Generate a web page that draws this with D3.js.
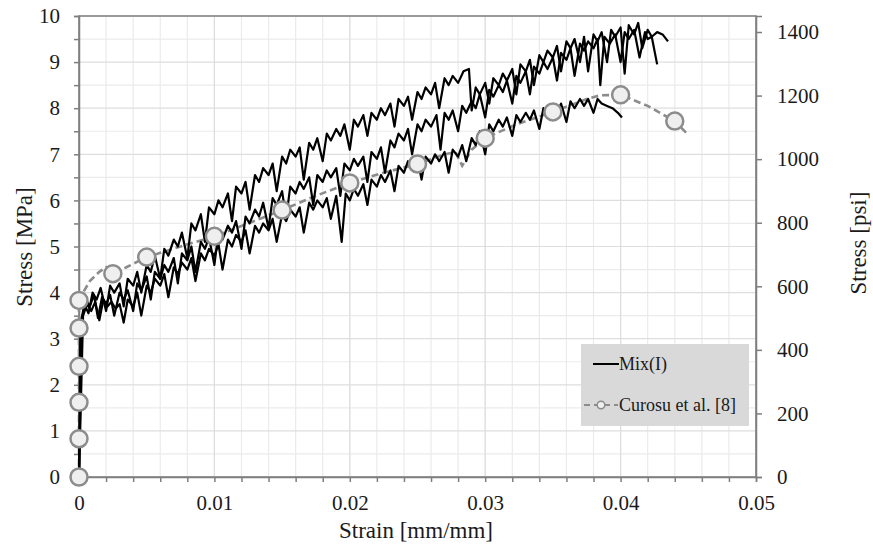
<!DOCTYPE html>
<html>
<head>
<meta charset="utf-8">
<script src="https://cdn.jsdelivr.net/npm/d3@7"></script>
<style>
  body { margin: 0; background: #fff; }
  svg { font-family: "Liberation Serif", "DejaVu Serif", serif; }
</style>
</head>
<body>
<script>
// tick labels
var xTicks = [0, 0.01, 0.02, 0.03, 0.04, 0.05];
var yTicks = [0, 1, 2, 3, 4, 5, 6, 7, 8, 9, 10];
var psiTicks = [0, 200, 400, 600, 800, 1000, 1200, 1400];

// Mix(I) specimens [strain, stress MPa]
var mixA = [[0,0],[0.0001,3.3],[0.0004,3.75],[0.0007,3.55],[0.001,4.0],[0.0013,3.85],[0.0016,4.1],[0.002,3.6],[0.0023,4.15],[0.0026,4.0],[0.003,4.2],[0.0033,3.7],[0.0036,4.3],[0.004,4.15],[0.0043,4.45],[0.0046,4.0],[0.005,4.6],[0.0053,4.45],[0.0056,4.8],[0.006,4.3],[0.0063,4.95],[0.0066,4.8],[0.007,5.15],[0.0073,5.0],[0.0076,5.3],[0.008,4.75],[0.0083,5.5],[0.0086,5.35],[0.009,5.7],[0.0093,5.1],[0.0096,5.85],[0.01,5.7],[0.0103,6.0],[0.0106,5.85],[0.011,6.15],[0.0113,5.55],[0.0116,6.3],[0.012,6.15],[0.0123,6.4],[0.0126,5.8],[0.013,6.55],[0.0133,6.4],[0.0136,6.7],[0.014,6.55],[0.0143,6.8],[0.0146,6.2],[0.015,6.95],[0.0153,6.8],[0.0156,7.1],[0.016,6.95],[0.0163,7.15],[0.0166,6.45],[0.017,7.25],[0.0173,7.1],[0.0176,7.35],[0.018,6.85],[0.0183,7.45],[0.0186,7.3],[0.019,7.55],[0.0193,7.4],[0.0196,7.65],[0.02,7.1],[0.0203,7.75],[0.0206,7.6],[0.021,7.85],[0.0213,7.4],[0.0216,7.9],[0.022,7.75],[0.0223,8.0],[0.0226,7.85],[0.023,8.1],[0.0233,7.6],[0.0236,8.2],[0.024,8.05],[0.0243,8.25],[0.0246,7.75],[0.025,8.35],[0.0253,8.2],[0.0256,8.45],[0.026,8.3],[0.0263,8.55],[0.0266,8.0],[0.027,8.65],[0.0273,8.5],[0.0276,8.7],[0.028,8.55],[0.0284,8.8],[0.0288,8.85],[0.029,7.95],[0.0293,8.45],[0.0296,8.3],[0.03,8.55],[0.0303,8.1],[0.0306,8.65],[0.031,8.5],[0.0313,8.75],[0.0316,8.6],[0.032,8.85],[0.0323,8.3],[0.0326,8.95],[0.033,8.8],[0.0333,9.05],[0.0336,8.5],[0.034,9.15],[0.0343,9.0],[0.0346,9.25],[0.035,9.1],[0.0353,9.35],[0.0356,8.8],[0.036,9.45],[0.0363,9.3],[0.0366,9.5],[0.037,9.0],[0.0373,9.55],[0.0376,8.8],[0.038,9.6],[0.0383,9.45],[0.0386,9.65],[0.039,9.0],[0.0393,9.7],[0.0396,9.55],[0.04,9.75],[0.0403,8.75],[0.0406,9.8],[0.041,9.6],[0.0413,9.85],[0.0416,9.3],[0.042,9.7],[0.0423,9.55],[0.0427,9.65],[0.0431,9.6],[0.0435,9.45]];

var mixB = [[0,0],[0.0002,3.4],[0.0005,3.85],[0.0008,3.7],[0.0011,3.95],[0.0014,3.45],[0.0017,3.9],[0.002,3.75],[0.0023,3.95],[0.0026,3.5],[0.003,4.0],[0.0033,3.85],[0.0036,4.05],[0.004,3.6],[0.0043,4.2],[0.0046,4.05],[0.005,4.35],[0.0053,3.85],[0.0056,4.45],[0.006,4.3],[0.0063,4.6],[0.0066,4.45],[0.007,4.75],[0.0073,4.2],[0.0076,4.85],[0.008,4.7],[0.0083,5.0],[0.0086,4.45],[0.009,5.1],[0.0093,4.95],[0.0096,5.2],[0.01,4.6],[0.0103,5.3],[0.0106,5.15],[0.011,5.45],[0.0113,5.3],[0.0116,5.55],[0.012,4.95],[0.0123,5.65],[0.0126,5.5],[0.013,5.8],[0.0133,5.65],[0.0136,5.95],[0.014,5.4],[0.0143,6.05],[0.0146,5.9],[0.015,6.2],[0.0153,5.6],[0.0156,6.3],[0.016,6.15],[0.0163,6.4],[0.0166,6.25],[0.017,6.5],[0.0173,5.9],[0.0176,6.55],[0.018,6.4],[0.0183,6.65],[0.0186,6.5],[0.019,6.7],[0.0193,6.1],[0.0196,6.8],[0.02,6.65],[0.0203,6.9],[0.0206,6.75],[0.021,6.95],[0.0213,6.4],[0.0216,7.05],[0.022,6.9],[0.0223,7.15],[0.0226,6.6],[0.023,7.3],[0.0233,7.15],[0.0236,7.45],[0.024,7.3],[0.0243,7.55],[0.0246,7.0],[0.025,7.65],[0.0253,7.5],[0.0256,7.75],[0.026,7.6],[0.0264,7.85],[0.0267,7.1],[0.027,7.9],[0.0273,7.75],[0.0276,7.95],[0.028,7.5],[0.0283,8.05],[0.0286,7.9],[0.029,8.15],[0.0293,8.0],[0.0296,8.3],[0.03,7.8],[0.0303,8.4],[0.0306,8.25],[0.031,8.5],[0.0313,8.35],[0.0316,8.6],[0.032,8.1],[0.0323,8.7],[0.0326,8.55],[0.033,8.8],[0.0333,8.3],[0.0336,8.9],[0.034,8.75],[0.0343,9.0],[0.0346,8.85],[0.035,9.1],[0.0353,8.6],[0.0356,9.2],[0.036,9.05],[0.0363,9.3],[0.0366,8.7],[0.037,9.4],[0.0373,9.25],[0.0376,9.45],[0.038,9.3],[0.0383,9.5],[0.0385,8.5],[0.0388,9.55],[0.0392,9.4],[0.0396,9.6],[0.04,9.0],[0.0403,9.65],[0.0406,9.5],[0.041,9.7],[0.0414,9.1],[0.0418,9.65],[0.042,9.5],[0.0423,9.55],[0.0427,8.95]];

var mixC = [[0,0],[0.0003,3.5],[0.0006,3.75],[0.0009,3.6],[0.0012,3.8],[0.0015,3.4],[0.0018,3.85],[0.0021,3.7],[0.0024,3.8],[0.0027,3.65],[0.003,3.75],[0.0033,3.35],[0.0036,3.85],[0.004,3.7],[0.0043,4.0],[0.0046,3.5],[0.005,4.15],[0.0053,4.0],[0.0056,4.3],[0.006,4.15],[0.0063,4.4],[0.0066,3.9],[0.007,4.55],[0.0073,4.4],[0.0076,4.65],[0.008,4.5],[0.0083,4.75],[0.0086,4.25],[0.009,4.85],[0.0093,4.7],[0.0096,4.95],[0.01,4.8],[0.0103,5.05],[0.0106,4.5],[0.011,5.15],[0.0113,5.0],[0.0116,5.25],[0.012,5.1],[0.0123,5.35],[0.0126,4.85],[0.013,5.45],[0.0133,5.3],[0.0136,5.5],[0.014,5.35],[0.0143,5.6],[0.0146,5.1],[0.015,5.7],[0.0153,5.55],[0.0156,5.8],[0.016,5.65],[0.0163,5.85],[0.0166,5.3],[0.017,5.95],[0.0173,5.8],[0.0176,6.0],[0.018,5.85],[0.0183,6.05],[0.0186,5.6],[0.019,6.1],[0.0194,5.1],[0.0197,6.15],[0.02,6.0],[0.0203,6.25],[0.0206,6.1],[0.021,6.35],[0.0213,5.9],[0.0216,6.45],[0.022,6.3],[0.0223,6.55],[0.0226,6.4],[0.023,6.65],[0.0233,6.2],[0.0236,6.75],[0.024,6.6],[0.0243,6.85],[0.0246,6.7],[0.025,6.9],[0.0253,6.45],[0.0256,6.95],[0.026,6.8],[0.0263,7.0],[0.0266,6.85],[0.027,7.05],[0.0273,6.6],[0.0276,7.1],[0.028,6.95],[0.0283,7.2],[0.0286,6.85],[0.029,7.35],[0.0293,7.2],[0.0296,7.5],[0.03,7.0],[0.0303,7.65],[0.0306,7.5],[0.031,7.75],[0.0313,7.6],[0.0316,7.8],[0.032,7.4],[0.0323,7.85],[0.0326,7.7],[0.033,7.9],[0.0333,7.75],[0.0336,7.95],[0.034,7.55],[0.0343,8.0],[0.0346,7.85],[0.035,8.05],[0.0353,7.9],[0.0356,8.1],[0.036,7.7],[0.0363,8.15],[0.0366,8.0],[0.037,8.2],[0.0373,8.05],[0.0376,8.2],[0.038,7.9],[0.0383,8.2],[0.0386,8.1],[0.039,8.05],[0.0394,8.0],[0.0398,7.9],[0.0401,7.8]];

// Curosu et al. [8] - dashed curve and its markers
var curosuLine = [[0,0],[0,3.85],[0.0008,4.25],[0.0015,4.45],[0.002,4.55],[0.0025,4.42],[0.0035,4.55],[0.005,4.77],[0.0075,5.0],[0.01,5.22],[0.0125,5.5],[0.015,5.79],[0.0175,6.1],[0.02,6.38],[0.0225,6.6],[0.025,6.79],[0.027,7.0],[0.0278,7.05],[0.0283,6.75],[0.029,7.1],[0.03,7.35],[0.0323,7.65],[0.035,7.92],[0.0375,8.2],[0.0385,8.28],[0.04,8.29],[0.042,8.05],[0.044,7.72],[0.045,7.42]];
var curosuPts = [[0,0],[0,0.83],[0,1.62],[0,2.4],[0,3.23],[0,3.83],[0.0025,4.41],[0.005,4.77],[0.01,5.22],[0.015,5.79],[0.02,6.38],[0.025,6.79],[0.03,7.35],[0.035,7.92],[0.04,8.29],[0.044,7.72]];

var W = 873, H = 551;
var mLeft = 79, mRight = 756, mTop = 16, mBottom = 477;
var MPA_TO_PSI = 145.038;

var svg = d3.select("body").append("svg")
    .attr("width", W)
    .attr("height", H);

var x = d3.scaleLinear().domain([0, 0.05]).range([mLeft, mRight]);
var y = d3.scaleLinear().domain([0, 10]).range([mBottom, mTop]);
var yPsi = d3.scaleLinear().domain([0, 10 * MPA_TO_PSI]).range([mBottom, mTop]);

var xMinor = d3.range(0, 0.0501, 0.002);
var yMinor = d3.range(0, 10.01, 0.5);

// grid
var grid = svg.append("g");
grid.selectAll(".gx")
    .data(xMinor)
    .enter().append("line")
    .attr("x1", function(d) { return x(d); })
    .attr("x2", function(d) { return x(d); })
    .attr("y1", mTop).attr("y2", mBottom)
    .attr("stroke", "#ebebeb").attr("stroke-width", 1.2);
grid.selectAll(".gy")
    .data(yMinor)
    .enter().append("line")
    .attr("x1", mLeft).attr("x2", mRight)
    .attr("y1", function(d) { return y(d); })
    .attr("y2", function(d) { return y(d); })
    .attr("stroke", function(d) { return d % 1 === 0 ? "#dedede" : "#ebebeb"; })
    .attr("stroke-width", 1.2);
grid.selectAll(".gxm")
    .data(xTicks)
    .enter().append("line")
    .attr("x1", function(d) { return x(d); })
    .attr("x2", function(d) { return x(d); })
    .attr("y1", mTop).attr("y2", mBottom)
    .attr("stroke", "#dedede").attr("stroke-width", 1.2);

// frame
svg.append("rect")
    .attr("x", mLeft).attr("y", mTop)
    .attr("width", mRight - mLeft).attr("height", mBottom - mTop)
    .attr("fill", "none").attr("stroke", "#7f7f7f").attr("stroke-width", 1.5);

// axes
function styleAxis(g) {
    g.select(".domain").attr("stroke", "#7f7f7f").attr("stroke-width", 1.5);
    g.selectAll(".tick line").attr("stroke", "#7f7f7f").attr("stroke-width", 1.5);
    g.selectAll(".tick text").attr("fill", "#1a1a1a").style("font-size", "21px")
        .style("font-family", "'Liberation Serif', serif");
}

var xAxis = d3.axisBottom(x)
    .tickValues(xMinor)
    .tickSize(5)
    .tickPadding(13)
    .tickFormat(function(d) {
        var k = Math.round(d * 1000);
        return k % 10 === 0 ? String(k / 1000) : "";
    });
svg.append("g").attr("transform", "translate(0," + mBottom + ")").call(xAxis).call(styleAxis);

var yAxis = d3.axisLeft(y)
    .tickValues(yMinor)
    .tickSize(5)
    .tickPadding(14)
    .tickFormat(function(d) { return yTicks.indexOf(d) >= 0 ? d : ""; });
svg.append("g").attr("transform", "translate(" + mLeft + ",0)").call(yAxis).call(styleAxis);

var yAxisR = d3.axisRight(yPsi)
    .tickValues(psiTicks)
    .tickSize(6)
    .tickPadding(15)
    .tickFormat(d3.format("d"));
svg.append("g").attr("transform", "translate(" + mRight + ",0)").call(yAxisR).call(styleAxis);

// axis titles
svg.append("text")
    .attr("x", 416).attr("y", 538)
    .attr("text-anchor", "middle")
    .style("font-size", "23px").attr("fill", "#1a1a1a")
    .text("Strain [mm/mm]");
svg.append("text")
    .attr("transform", "translate(32,247) rotate(-90)")
    .attr("text-anchor", "middle")
    .style("font-size", "23px").attr("fill", "#1a1a1a")
    .text("Stress [MPa]");
svg.append("text")
    .attr("transform", "translate(866,243) rotate(-90)")
    .attr("text-anchor", "middle")
    .style("font-size", "23px").attr("fill", "#1a1a1a")
    .text("Stress [psi]");

var line = d3.line()
    .x(function(d) { return x(d[0]); })
    .y(function(d) { return y(d[1]); });

var plot = svg.append("g");

// Curosu dashed line
plot.append("path")
    .datum(curosuLine)
    .attr("d", line)
    .attr("fill", "none")
    .attr("stroke", "#8c8c8c")
    .attr("stroke-width", 2.6)
    .attr("stroke-dasharray", "7,4");

// Mix(I) curves
[mixA, mixB, mixC].forEach(function(s) {
    plot.append("path")
        .datum(s)
        .attr("d", line)
        .attr("fill", "none")
        .attr("stroke", "#000")
        .attr("stroke-width", 2.2)
        .attr("stroke-linejoin", "round");
});

// Curosu markers
plot.selectAll(".mk")
    .data(curosuPts)
    .enter().append("circle")
    .attr("cx", function(d) { return x(d[0]); })
    .attr("cy", function(d) { return y(d[1]); })
    .attr("r", 8.5)
    .attr("fill", "#efefef")
    .attr("stroke", "#8c8c8c")
    .attr("stroke-width", 2.5);

// legend
var lg = svg.append("g");
lg.append("rect")
    .attr("x", 581).attr("y", 344)
    .attr("width", 168).attr("height", 82)
    .attr("fill", "#d9d9d9");
lg.append("line")
    .attr("x1", 593).attr("x2", 619).attr("y1", 364).attr("y2", 364)
    .attr("stroke", "#000").attr("stroke-width", 2);
lg.append("text")
    .attr("x", 619).attr("y", 370)
    .style("font-size", "18px").attr("fill", "#1a1a1a")
    .text("Mix(I)");
lg.append("line")
    .attr("x1", 584).attr("x2", 618).attr("y1", 405).attr("y2", 405)
    .attr("stroke", "#8c8c8c").attr("stroke-width", 2.2)
    .attr("stroke-dasharray", "6,4");
lg.append("circle")
    .attr("cx", 601).attr("cy", 405).attr("r", 3.8)
    .attr("fill", "#efefef").attr("stroke", "#8c8c8c").attr("stroke-width", 1.5);
lg.append("text")
    .attr("x", 619).attr("y", 411)
    .style("font-size", "18px").attr("fill", "#1a1a1a")
    .text("Curosu et al. [8]");
</script>
</body>
</html>
